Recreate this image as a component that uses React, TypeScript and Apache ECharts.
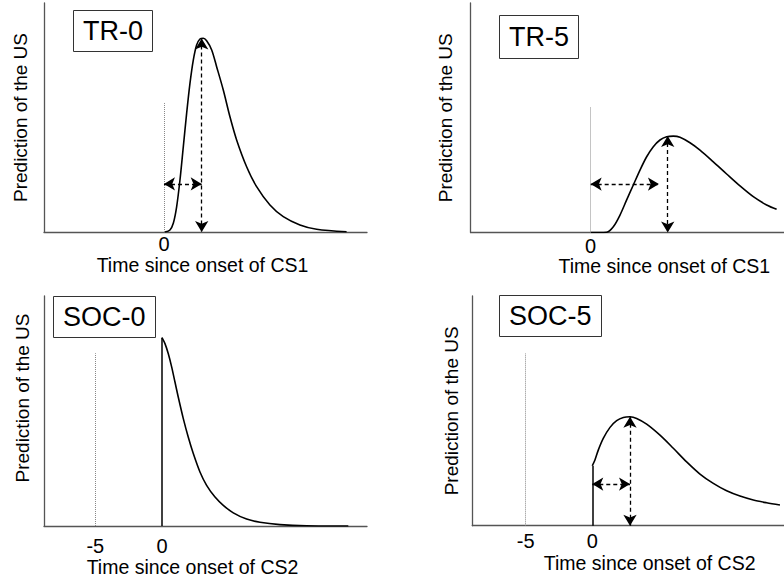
import React, { useEffect, useRef } from 'react';
import * as echarts from 'echarts';

// ---- data (time in arbitrary units, prediction 0..1) ----
const tr0Time = [0.08, 0.45, 0.7, 0.95, 1.2, 1.45, 1.7, 1.95, 2.2, 2.45, 2.7, 2.95, 3.2, 3.58, 3.95, 4.45, 4.95, 5.45, 6.2, 6.95, 7.95, 8.95, 10.2, 11.45, 13.7];
const tr0Pred = [0, 0.009, 0.038, 0.11, 0.227, 0.372, 0.518, 0.649, 0.751, 0.817, 0.843, 0.846, 0.835, 0.795, 0.722, 0.62, 0.503, 0.402, 0.285, 0.198, 0.118, 0.067, 0.031, 0.012, 0.001];

const tr5Time = [0, 0.6, 1.2, 1.7, 2.2, 2.7, 3.2, 3.7, 4.2, 4.7, 5.2, 5.7, 6.2, 6.7, 7.45, 8.2, 9.2, 10.2, 11.2, 12.2, 13.2, 13.95];
const tr5Pred = [0, 0, 0.001, 0.025, 0.076, 0.142, 0.207, 0.272, 0.33, 0.374, 0.403, 0.417, 0.42, 0.415, 0.391, 0.359, 0.308, 0.255, 0.203, 0.156, 0.12, 0.101];

const soc0Time = [0, 0.225, 0.47, 0.73, 0.975, 1.22, 1.6, 1.97, 2.35, 2.85, 3.35, 3.98, 4.6, 5.35, 6.35, 7.35, 8.85, 10.85, 13.98];
const soc0Pred = [0.819, 0.793, 0.75, 0.691, 0.626, 0.561, 0.467, 0.387, 0.315, 0.235, 0.177, 0.126, 0.09, 0.057, 0.03, 0.016, 0.006, 0.001, 0];

const soc5Time = [0, 0.2, 0.45, 0.825, 1.33, 1.83, 2.33, 2.83, 3.33, 4.08, 5.08, 6.08, 7.08, 8.08, 9.08, 10.08, 11.08, 12.08, 13.08, 14.08];
const soc5Pred = [0.261, 0.286, 0.329, 0.38, 0.428, 0.457, 0.471, 0.474, 0.467, 0.442, 0.394, 0.337, 0.278, 0.225, 0.184, 0.152, 0.129, 0.112, 0.1, 0.09];

const panelTitles = ['TR-0', 'TR-5', 'SOC-0', 'SOC-5'];
const xTitles = ['Time since onset of CS1', 'Time since onset of CS1', 'Time since onset of CS2', 'Time since onset of CS2'];
const yTitle = 'Prediction of the US';
const tickValues = [[0], [0], [-5, 0], [-5, 0]];

// reference markers: [time of dotted onset line, its height]
const onsetLines = [[0, 0.563], [0, 0.547], [-5, 0.751], [-5, 0.751]];
// CS2-onset solid lines (SOC panels): [time, height]
const solidLines: (number[] | null)[] = [null, null, [0, 0.819], [0, 0.261]];
// horizontal arrows: [level, from time, to time]
const hArrows: (number[] | null)[] = [[0.21, 0, 2.83], [0.211, 0, 5.12], null, [0.181, 0, 2.83]];
// vertical arrows: [time, peak height]
const vArrows: (number[] | null)[] = [[2.83, 0.845], [5.78, 0.42], null, [2.83, 0.474]];

const curves = [
  [tr0Time, tr0Pred],
  [tr5Time, tr5Pred],
  [soc0Time, soc0Pred],
  [soc5Time, soc5Pred],
];

// ---- layout ----
const FONT = '"Liberation Sans", Arial, Helvetica, sans-serif';
const PX_PER_UNIT = 13.33;
const grids = [
  { left: 44, top: 3, width: 323, height: 229 },
  { left: 470.7, top: 3, width: 313.3, height: 229.5 },
  { left: 44, top: 296, width: 323, height: 230 },
  { left: 472.3, top: 296, width: 311.7, height: 229.7 },
];
const xMins = [-9, -9, -8.85, -9];
const boxes = [
  { left: 73, top: 10, padding: [6, 10] },
  { left: 499, top: 15, padding: [7, 10] },
  { left: 53, top: 296, padding: [6, 10] },
  { left: 499, top: 295, padding: [6, 10] },
];
const xNameGaps = [15, 22.5, 28, 27.5];
const xNamePads = [[0, 6, 0, 0], [0, 0, 0, 74], [0, 26, 0, 0], [0, 0, 0, 43]];
const labelMargins = [2, 3, 10, 5];
const yNameGaps = [14.5, 15.5, 12, 11.5];
const yNamePads = [[0, 0, 0, 0], [0, 0, 0, 0], [0, 0, 0, 26], [0, 0, 0, 0]];

function buildOption() {
  const dashed = { type: [4, 3], color: '#000', width: 1.3 };
  const series = curves.map(([t, v], i) => {
    const ml: any[] = [];
    const [ot, oh] = onsetLines[i];
    ml.push([
      { coord: [ot, 0], symbol: 'none', lineStyle: { type: 'dotted', color: '#888', width: 1 } },
      { coord: [ot, oh], symbol: 'none' },
    ]);
    const s = solidLines[i];
    if (s) {
      ml.push([
        { coord: [s[0], 0], symbol: 'none', lineStyle: { type: 'solid', color: '#000', width: 1.5 } },
        { coord: [s[0], s[1]], symbol: 'none' },
      ]);
    }
    const h = hArrows[i];
    if (h) {
      ml.push([
        { coord: [h[1], h[0]], symbol: 'arrow', lineStyle: dashed },
        { coord: [h[2], h[0]], symbol: 'arrow' },
      ]);
    }
    const va = vArrows[i];
    if (va) {
      ml.push([
        { coord: [va[0], va[1]], symbol: 'arrow', lineStyle: dashed },
        { coord: [va[0], 0], symbol: 'arrow' },
      ]);
    }
    return {
      type: 'line',
      xAxisIndex: i,
      yAxisIndex: i,
      data: t.map((tt, k) => [tt, v[k]]),
      showSymbol: false,
      smooth: 0.3,
      lineStyle: { color: '#000', width: 1.6 },
      silent: true,
      markLine: {
        silent: true,
        symbol: ['none', 'none'],
        symbolSize: [10, 11],
        label: { show: false },
        emphasis: { disabled: true },
        animation: false,
        data: ml,
      },
    };
  });

  return {
    animation: false,
    backgroundColor: '#fff',
    title: panelTitles.map((txt, i) => ({
      text: txt,
      left: boxes[i].left,
      top: boxes[i].top,
      padding: boxes[i].padding,
      borderColor: '#333',
      borderWidth: 1,
      textStyle: { fontSize: 27, fontWeight: 'normal', color: '#000', fontFamily: FONT, lineHeight: 30 },
    })),
    grid: grids.map((g) => ({ ...g, containLabel: false })),
    xAxis: grids.map((g, i) => ({
      type: 'value',
      gridIndex: i,
      min: xMins[i],
      max: +(xMins[i] + g.width / PX_PER_UNIT).toFixed(3),
      name: xTitles[i],
      nameLocation: 'middle',
      nameGap: xNameGaps[i],
      nameTextStyle: { fontSize: 19.5, color: '#000', fontFamily: FONT, padding: xNamePads[i] },
      axisLine: { show: true, onZero: false, lineStyle: { color: '#555', width: 1.3 } },
      axisTick: { show: false },
      splitLine: { show: false },
      axisLabel: {
        customValues: tickValues[i],
        margin: labelMargins[i],
        fontSize: 20,
        color: '#000',
        fontFamily: FONT,
        formatter: (val: number) => String(val),
      },
    })),
    yAxis: grids.map((_, i) => ({
      type: 'value',
      gridIndex: i,
      min: 0,
      max: 1,
      name: yTitle,
      nameLocation: 'middle',
      nameGap: yNameGaps[i],
      nameTextStyle: { fontSize: 19, color: '#000', fontFamily: FONT, padding: yNamePads[i] },
      axisLine: { show: true, onZero: false, lineStyle: { color: '#555', width: 1.3 } },
      axisTick: { show: false },
      axisLabel: { show: false },
      splitLine: { show: false },
    })),
    series,
  };
}

export default function App() {
  const ref = useRef<HTMLDivElement>(null);
  useEffect(() => {
    if (!ref.current) return;
    const chart = echarts.init(ref.current, null, { renderer: 'svg' });
    chart.setOption(buildOption() as any);
    return () => chart.dispose();
  }, []);
  return (
    <div
      ref={ref}
      style={{ position: 'fixed', left: 0, top: 0, width: 784, height: 578, background: '#fff', overflow: 'hidden' }}
    />
  );
}
